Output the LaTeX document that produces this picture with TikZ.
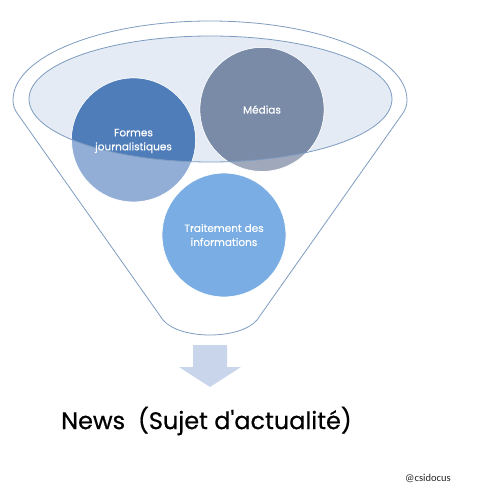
\documentclass[tikz,border=0pt]{standalone}
\usepackage{fontspec}
\setmainfont{Poppins}
\newfontfamily\newsfont{Poppins}[FakeBold=0.6]
\newfontfamily\bubblefont{Poppins}[FakeBold=0.4]
\newfontfamily\tagfont{Carlito}
\definecolor{funnelline}{HTML}{7E9CC0}
\definecolor{ellfill}{HTML}{E4EBF5}
\definecolor{formesdark}{HTML}{4F7DBA}
\definecolor{formeslight}{HTML}{93AED6}
\definecolor{mediasdark}{HTML}{7A8BA8}
\definecolor{mediaslight}{HTML}{A0A9BC}
\definecolor{traitcol}{HTML}{7AADE3}
\definecolor{arrowcol}{HTML}{C9D5EB}
\tikzset{
  bubble/.style={circle, minimum size=124pt, inner sep=0pt, draw=white, line width=0.8pt},
  bubbletext/.style={text=white, font=\bubblefont\fontsize{10.5}{14}\selectfont, align=center, inner sep=0pt},
}
\begin{document}
\begin{tikzpicture}[x=1pt,y=-1pt]
\useasboundingbox (0,0) rectangle (486,503);
% funnel outline
\draw[funnelline, line width=0.8pt, fill=white]
  (13,100) .. controls (13,56.4) and (101.2,21) .. (210,21)
  .. controls (318.8,21) and (407,56.4) .. (407,100)
  .. controls (407,106) and (405,110) .. (403,113)
  -- (257,320)
  .. controls (240,340) and (180,340) .. (163,320)
  -- (17,113)
  .. controls (15,110) and (13,106) .. (13,100) -- cycle;
% inner ellipse fill
\fill[ellfill] (210.5,99) ellipse [x radius=181.5, y radius=63];
% circles
\node[bubble, fill=formeslight] (formes) at (133.5,140) {};
\node[bubble, fill=mediaslight] (medias) at (262,109.5) {};
\node[bubble, fill=traitcol] (trait) at (224,235) {};
\begin{scope}
  \clip (210.5,99) ellipse [x radius=181.5, y radius=63];
  \fill[formesdark] (formes.center) circle [radius=61.6];
  \fill[mediasdark] (medias.center) circle [radius=61.6];
\end{scope}
\draw[funnelline, line width=0.8pt] (210.5,99) ellipse [x radius=181.5, y radius=63];
% texts
\node[bubbletext] (tformes) at ([yshift=-1pt]formes.center) {Formes\\journalistiques};
\node[bubbletext] (tmedias) at (medias.center) {Médias};
\node[bubbletext] (ttrait) at (trait.center) {Traitement des\\informations};
% arrow
\fill[arrowcol] (193,345) -- (227,345) -- (227,367) -- (241,367) -- (210,387) -- (179,367) -- (193,367) -- cycle;
\node[font=\newsfont\fontsize{24}{28}\selectfont, anchor=west, inner sep=0pt] (news) at (61,421) {News\ \ (Sujet d'actualité)};
\node[font=\tagfont\fontsize{10.5}{12}\selectfont, anchor=west, inner sep=0pt, text=black!85] (tag) at (405,478) {@csidocus};
\end{tikzpicture}
\end{document}
